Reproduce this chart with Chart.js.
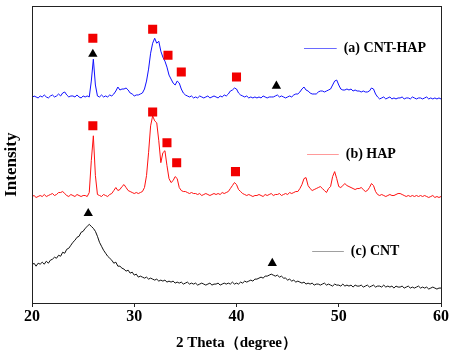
<!DOCTYPE html>
<html>
<head>
<meta charset="utf-8">
<script src="https://cdn.jsdelivr.net/npm/chart.js@4"></script>
<style>
  body { margin: 0; background: #fff; }
  #wrap { width: 454px; height: 354px; }
</style>
</head>
<body>
<div id="wrap"><canvas id="xrdChart"></canvas></div>
<script>
// 2 theta grid: 20 to 60 deg, every 0.2 deg
var thetaStart = 20;
var thetaStep = 0.2;

// (a) CNT-HAP, offset intensity
var cntHap = [
  206,208,207,206,208,207,209,207,206,208,
  209,207,208,210,208,211,212,209,207,208,
  208,207,209,207,206,208,207,208,207,223,
  245,219,208,207,209,207,208,207,209,208,
  210,213,217,214,215,215,216,214,211,210,
  208,209,209,210,211,215,223,235,251,261,
  266,261,263,253,247,243,237,229,225,221,
  219,223,221,215,211,209,208,207,208,206,
  207,206,208,207,206,207,208,206,207,208,
  207,206,208,207,209,208,210,213,214,216,
  215,211,209,208,207,208,206,207,206,207,
  206,207,206,208,207,206,207,207,207,208,
  209,207,208,207,206,207,208,207,209,210,
  210,212,215,217,214,213,211,210,210,210,
  212,213,213,212,213,214,215,219,223,224,
  219,215,214,214,215,214,215,213,214,213,
  213,212,213,212,212,213,216,215,210,207,
  205,206,207,205,206,207,205,206,205,206,
  206,207,205,206,206,205,207,206,205,206,
  206,205,206,207,205,206,205,206,205,206,
  205
];

// (b) HAP
var hap = [
  107,108,106,107,108,107,109,107,108,109,
  110,108,109,111,111,112,110,108,107,109,
  108,107,109,108,107,108,108,107,111,143,
  168,128,109,108,107,109,108,107,109,110,
  113,116,113,114,117,119,116,113,112,111,
  110,111,110,111,112,116,128,151,178,188,
  183,181,163,141,151,153,138,125,121,123,
  127,125,116,113,112,112,111,110,111,110,
  110,109,110,108,109,110,109,108,109,110,
  109,110,109,111,110,111,112,115,118,121,
  119,114,112,110,109,108,109,108,107,108,
  108,109,108,107,109,108,109,110,108,109,
  109,110,108,109,110,109,111,110,111,112,
  112,115,119,125,126,118,115,113,114,115,
  116,117,115,113,111,115,117,127,132,125,
  117,116,118,120,118,117,116,115,114,115,
  115,116,114,112,113,116,120,118,112,109,
  108,109,108,107,108,109,108,108,109,110,
  110,109,108,107,108,107,108,107,108,107,
  108,107,108,107,106,107,108,106,107,106,
  107
];

// (c) CNT
var cnt = [
  38,40,37,40,39,41,39,42,40,43,
  44,46,45,48,47,51,50,54,55,58,
  61,63,66,67,71,72,75,77,79,77,
  75,72,67,61,57,53,50,47,45,43,
  40,41,37,37,35,34,32,33,30,31,
  28,29,26,27,26,25,26,24,25,24,
  23,24,22,23,22,23,21,22,21,22,
  20,21,20,21,19,20,21,19,20,19,
  20,18,19,20,19,18,19,20,18,19,
  19,20,18,19,20,19,20,19,21,19,
  20,19,21,20,22,21,22,23,22,24,
  24,25,26,25,27,27,28,29,28,27,
  28,26,27,25,25,23,24,22,23,21,
  22,21,20,21,19,20,19,20,18,19,
  19,18,19,20,18,19,18,17,19,18,
  18,17,19,17,18,17,18,16,18,17,
  17,18,16,17,18,16,17,18,16,17,
  17,16,18,16,17,16,17,15,17,16,
  16,17,15,16,17,15,16,15,16,17,
  15,16,15,16,14,15,16,15,14,15,
  15
];

// HAP peaks (red squares) and CNT peaks (black triangles)
var squareX = [25.95, 31.8, 33.3, 34.6, 40.0, 25.95, 31.8, 33.2, 34.15, 39.9];
var squareY = [266, 275, 249, 232, 227, 178, 192, 161, 141, 132];
var triangleX = [25.95, 43.9, 25.5, 43.5];
var triangleY = [250, 218, 90, 40];

var seriesNames = ['(a) CNT-HAP', '(b) HAP', '(c) CNT'];
var seriesColors = ['#1010ff', '#ff1010', '#111111'];
var legendColors = ['#6a6aff', '#ff9a9a', '#a0a0a0'];
// legend line start/end (2 theta) and height for each label
var legendX = [[46.6, 49.8], [46.9, 50.0], [47.4, 50.5]];
var legendY = [256, 150, 52];

function toPoints(vals) {
    var pts = [];
    for (var i = 0; i < vals.length; i++) {
        pts.push({ x: +(thetaStart + i * thetaStep).toFixed(1), y: vals[i] });
    }
    return pts;
}

function pairs(xs, ys) {
    return xs.map(function (x, i) { return { x: x, y: ys[i] }; });
}

var serif = '"Times New Roman", "Liberation Serif", serif';

var framePlugin = {
    id: 'frame',
    afterDraw: function (chart) {
        var ctx = chart.ctx, a = chart.chartArea;
        var xs = chart.scales.x, ys = chart.scales.y;
        ctx.save();
        ctx.strokeStyle = '#222';
        ctx.lineWidth = 1;
        ctx.strokeRect(Math.round(a.left) + 0.5, Math.round(a.top) + 0.5,
            Math.round(a.right - a.left), Math.round(a.bottom - a.top));

        // y axis title, sits a bit below the middle like the original
        ctx.save();
        ctx.translate(12, (a.top + a.bottom) / 2 + 10);
        ctx.rotate(-Math.PI / 2);
        ctx.font = 'bold 17px ' + serif;
        ctx.textAlign = 'center';
        ctx.textBaseline = 'middle';
        ctx.fillStyle = '#000';
        ctx.fillText('Intensity', 0, 0);
        ctx.restore();

        ctx.font = 'bold 14px ' + serif;
        ctx.textBaseline = 'middle';
        for (var i = 0; i < seriesNames.length; i++) {
            var y = Math.round(ys.getPixelForValue(legendY[i])) + 0.5;
            var x0 = xs.getPixelForValue(legendX[i][0]);
            var x1 = xs.getPixelForValue(legendX[i][1]);
            ctx.strokeStyle = legendColors[i];
            ctx.beginPath();
            ctx.moveTo(x0, y);
            ctx.lineTo(x1, y);
            ctx.stroke();
            ctx.fillStyle = '#000';
            ctx.fillText(seriesNames[i], x1 + 7, y);
        }
        ctx.restore();
    }
};

var ctx = document.getElementById('xrdChart');
var lineSets = [cntHap, hap, cnt].map(function (vals, i) {
    return {
        label: seriesNames[i],
        data: toPoints(vals),
        borderColor: seriesColors[i],
        borderWidth: 1,
        pointRadius: 0,
        tension: 0,
        order: 2
    };
});

var config = {
    type: 'line',
    data: {
        datasets: lineSets.concat([{
            label: 'HAP',
            data: pairs(squareX, squareY),
            showLine: false,
            pointStyle: 'rect',
            pointRadius: 6.4,
            backgroundColor: '#f20000',
            borderWidth: 0,
            order: 1
        }, {
            label: 'CNT',
            data: pairs(triangleX, triangleY),
            showLine: false,
            pointStyle: 'triangle',
            pointRadius: 5.4,
            backgroundColor: '#000',
            borderWidth: 0,
            order: 1
        }])
    },
    plugins: [framePlugin],
    options: {
        responsive: true,
        maintainAspectRatio: false,
        animation: false,
        layout: { padding: { top: 5, right: 13, left: 0, bottom: 0 } },
        plugins: {
            legend: { display: false },
            tooltip: { enabled: false }
        },
        scales: {
            x: {
                type: 'linear',
                min: 20,
                max: 60,
                ticks: {
                    stepSize: 10,
                    color: '#000',
                    padding: 0,
                    font: { family: serif, size: 16, weight: 'bold' }
                },
                grid: { drawOnChartArea: false, drawTicks: true, tickLength: 4, color: '#222' },
                border: { display: true, color: '#222' },
                title: {
                    display: true,
                    text: '2 Theta（degree）',
                    color: '#000',
                    padding: { top: 0, bottom: 2 },
                    font: { family: serif, size: 15, weight: 'bold' }
                },
                afterFit: function (s) { s.height = 51; }
            },
            y: {
                min: 0,
                max: 298,
                ticks: { display: false },
                grid: { display: false },
                border: { display: true, color: '#222' },
                title: { display: false },
                afterFit: function (s) { s.width = 32; }
            }
        }
    }
};

window.xrdChart = new Chart(ctx, config);
</script>
</body>
</html>
